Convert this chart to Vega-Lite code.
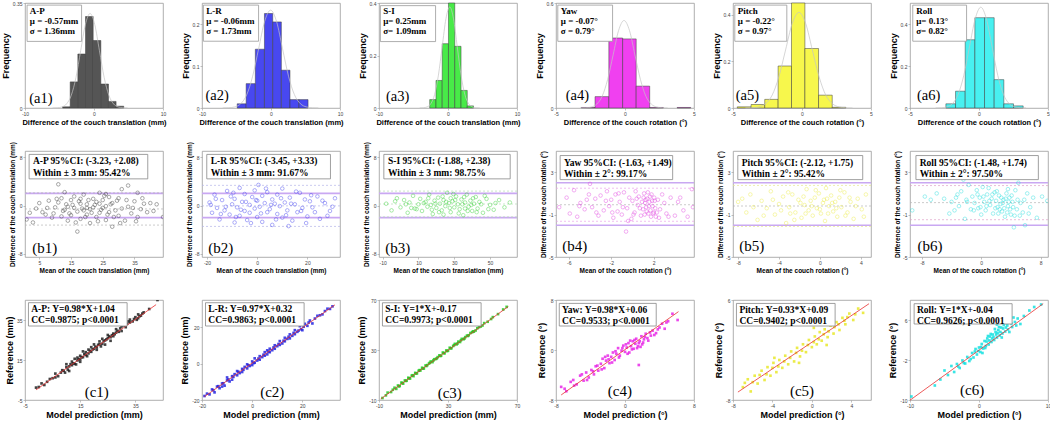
{
"$schema":"https://vega.github.io/schema/vega-lite/v6.json",
"background":"white",
"padding":0,
"bounds":"flush",
"columns":6,
"spacing":{"row":43,"column":39},
"config":{"view":{"stroke":"#9a9a9a","strokeWidth":0.8},
"axis":{"grid":false,"domain":false,"tickSize":2,"tickColor":"#999999","tickWidth":0.6,"labelFontSize":5,"labelFont":"Liberation Sans","labelColor":"#444444","labelPadding":1,"labelFlush":false,"labelOverlap":false,"labelExpr":"'' + datum.value","titleFont":"Liberation Sans","titleFontWeight":"bold","titleColor":"#000000","titlePadding":2}},
"datasets":{
"h1":[{"x":-4.55,"x2":-3.45,"y":0.004},{"x":-3.45,"x2":-2.34,"y":0.087},{"x":-2.34,"x2":-1.23,"y":0.18},{"x":-1.23,"x2":-0.12,"y":0.305},{"x":-0.12,"x2":0.99,"y":0.225},{"x":0.99,"x2":2.1,"y":0.08},{"x":2.1,"x2":3.2,"y":0.022},{"x":3.2,"x2":4.31,"y":0.006}],
"h2":[{"x":-4.9,"x2":-3.6,"y":0.01},{"x":-3.6,"x2":-2.27,"y":0.058},{"x":-2.27,"x2":-0.95,"y":0.14},{"x":-0.95,"x2":0.25,"y":0.225},{"x":0.25,"x2":1.5,"y":0.205},{"x":1.5,"x2":2.75,"y":0.09},{"x":2.75,"x2":4.05,"y":0.02},{"x":4.05,"x2":5.37,"y":0.02}],
"h3":[{"x":-2.65,"x2":-1.74,"y":0.032},{"x":-1.74,"x2":-0.84,"y":0.105},{"x":-0.84,"x2":0.07,"y":0.245},{"x":0.07,"x2":0.98,"y":0.4},{"x":0.98,"x2":1.89,"y":0.235},{"x":1.89,"x2":2.79,"y":0.067},{"x":2.79,"x2":3.7,"y":0.008}],
"h4":[{"x":-3.17,"x2":-2.17,"y":0.003},{"x":-2.17,"x2":-1.17,"y":0.065},{"x":-1.17,"x2":-0.17,"y":0.4},{"x":-0.17,"x2":0.81,"y":0.395},{"x":0.81,"x2":1.79,"y":0.125},{"x":1.79,"x2":2.78,"y":0.003},{"x":3.78,"x2":4.76,"y":0.003}],
"h5":[{"x":-4.69,"x2":-3.69,"y":0.005},{"x":-3.69,"x2":-2.7,"y":0.015},{"x":-2.7,"x2":-1.73,"y":0.037},{"x":-1.73,"x2":-0.76,"y":0.18},{"x":-0.76,"x2":0.21,"y":0.45},{"x":0.21,"x2":1.2,"y":0.255},{"x":1.2,"x2":2.19,"y":0.055},{"x":2.19,"x2":3.18,"y":0.003}],
"h6":[{"x":-2.4,"x2":-1.7,"y":0.02},{"x":-1.7,"x2":-1.0,"y":0.08},{"x":-1.0,"x2":-0.3,"y":0.325},{"x":-0.3,"x2":0.4,"y":0.43},{"x":0.4,"x2":1.1,"y":0.43},{"x":1.1,"x2":1.8,"y":0.135},{"x":1.8,"x2":2.5,"y":0.02},{"x":2.5,"x2":3.2,"y":0.01}],
"g1":[{"x":-6.01,"y":0.0001},{"x":-5.33,"y":0.0007},{"x":-4.65,"y":0.0035},{"x":-3.97,"y":0.0138},{"x":-3.29,"y":0.0426},{"x":-2.61,"y":0.102},{"x":-1.93,"y":0.191},{"x":-1.25,"y":0.278},{"x":-0.57,"y":0.315},{"x":0.11,"y":0.278},{"x":0.79,"y":0.191},{"x":1.47,"y":0.102},{"x":2.15,"y":0.0426},{"x":2.83,"y":0.0138},{"x":3.51,"y":0.0035},{"x":4.19,"y":0.0007},{"x":4.87,"y":0.0001}],
"g2":[{"x":-7.0,"y":0.0001},{"x":-6.12,"y":0.0005},{"x":-5.25,"y":0.0026},{"x":-4.39,"y":0.0102},{"x":-3.52,"y":0.0315},{"x":-2.66,"y":0.0757},{"x":-1.79,"y":0.1413},{"x":-0.93,"y":0.2056},{"x":-0.06,"y":0.233},{"x":0.81,"y":0.2056},{"x":1.67,"y":0.1413},{"x":2.54,"y":0.0757},{"x":3.4,"y":0.0315},{"x":4.27,"y":0.0102},{"x":5.13,"y":0.0026},{"x":6.0,"y":0.0005},{"x":6.86,"y":0.0001}],
"g3":[{"x":-4.11,"y":0.0001},{"x":-3.57,"y":0.0008},{"x":-3.02,"y":0.0043},{"x":-2.48,"y":0.0169},{"x":-1.93,"y":0.0521},{"x":-1.39,"y":0.125},{"x":-0.84,"y":0.2335},{"x":-0.3,"y":0.3398},{"x":0.25,"y":0.385},{"x":0.8,"y":0.3398},{"x":1.34,"y":0.2335},{"x":1.89,"y":0.125},{"x":2.43,"y":0.0521},{"x":2.98,"y":0.0169},{"x":3.52,"y":0.0043},{"x":4.07,"y":0.0008},{"x":4.61,"y":0.0001}],
"g4":[{"x":-3.23,"y":0.0002},{"x":-2.84,"y":0.0011},{"x":-2.44,"y":0.0056},{"x":-2.05,"y":0.022},{"x":-1.65,"y":0.0677},{"x":-1.26,"y":0.1624},{"x":-0.86,"y":0.3033},{"x":-0.47,"y":0.4413},{"x":-0.07,"y":0.5},{"x":0.33,"y":0.4413},{"x":0.72,"y":0.3033},{"x":1.12,"y":0.1624},{"x":1.51,"y":0.0677},{"x":1.91,"y":0.022},{"x":2.3,"y":0.0056},{"x":2.7,"y":0.0011},{"x":3.09,"y":0.0002}],
"g5":[{"x":-4.1,"y":0.0001},{"x":-3.62,"y":0.0009},{"x":-3.13,"y":0.0046},{"x":-2.65,"y":0.018},{"x":-2.16,"y":0.0555},{"x":-1.68,"y":0.1331},{"x":-1.19,"y":0.2487},{"x":-0.71,"y":0.3618},{"x":-0.22,"y":0.41},{"x":0.27,"y":0.3618},{"x":0.75,"y":0.2487},{"x":1.24,"y":0.1331},{"x":1.72,"y":0.0555},{"x":2.21,"y":0.018},{"x":2.69,"y":0.0046},{"x":3.18,"y":0.0009},{"x":3.66,"y":0.0001}],
"g6":[{"x":-3.15,"y":0.0002},{"x":-2.74,"y":0.0011},{"x":-2.33,"y":0.0053},{"x":-1.92,"y":0.0211},{"x":-1.51,"y":0.0649},{"x":-1.1,"y":0.1559},{"x":-0.69,"y":0.2911},{"x":-0.28,"y":0.4236},{"x":0.13,"y":0.48},{"x":0.54,"y":0.4236},{"x":0.95,"y":0.2911},{"x":1.36,"y":0.1559},{"x":1.77,"y":0.0649},{"x":2.18,"y":0.0211},{"x":2.59,"y":0.0053},{"x":3.0,"y":0.0011},{"x":3.41,"y":0.0002}],
"s1":[{"x":1,"y":-2.3},{"x":2,"y":-1.2},{"x":3,"y":-2.8},{"x":4,"y":-0.5},{"x":5,"y":0.4},{"x":6,"y":-1.1},{"x":7,"y":-1.5},{"x":8,"y":0.8},{"x":9,"y":-2},{"x":10,"y":-0.3},{"x":11,"y":3.5},{"x":11,"y":0.5},{"x":12,"y":-1.8},{"x":12,"y":1.2},{"x":13,"y":-0.7},{"x":13,"y":2.2},{"x":14,"y":-2.5},{"x":14,"y":-0.2},{"x":15,"y":0.9},{"x":15,"y":-1.6},{"x":16,"y":-0.4},{"x":16,"y":1.5},{"x":17,"y":-4.3},{"x":17,"y":-1},{"x":18,"y":0.3},{"x":18,"y":-2.2},{"x":19,"y":-0.8},{"x":19,"y":1.8},{"x":20,"y":-1.5},{"x":20,"y":0.2},{"x":21,"y":-0.6},{"x":21,"y":-2.9},{"x":22,"y":1.1},{"x":22,"y":-0.3},{"x":23,"y":-1.9},{"x":23,"y":0.6},{"x":24,"y":2.1},{"x":24,"y":-1.2},{"x":25,"y":-0.4},{"x":25,"y":0.9},{"x":26,"y":-2.4},{"x":26,"y":-0.1},{"x":27,"y":1.4},{"x":27,"y":-1.1},{"x":28,"y":-3.5},{"x":28,"y":0.4},{"x":29,"y":-0.8},{"x":30,"y":1.2},{"x":30,"y":-1.7},{"x":31,"y":2.7},{"x":31,"y":-0.5},{"x":32,"y":-2.5},{"x":33,"y":3.3},{"x":33,"y":-0.2},{"x":34,"y":-1.3},{"x":35,"y":0.7},{"x":36,"y":-1.9},{"x":36,"y":2.1},{"x":37,"y":-0.6},{"x":38,"y":0.3},{"x":39,"y":-1.1},{"x":40,"y":0.4},{"x":41,"y":-0.9},{"x":42,"y":0.2},{"x":44,"y":-1.9},{"x":12.5,"y":-0.9},{"x":13.5,"y":0.2},{"x":14.5,"y":-1.3},{"x":15.5,"y":0.1},{"x":16.5,"y":-2.8},{"x":17.5,"y":0.7},{"x":18.5,"y":-0.5},{"x":19.5,"y":-1.9},{"x":20.5,"y":0.9},{"x":21.5,"y":-1.2},{"x":22.5,"y":0.1},{"x":23.5,"y":-2.6},{"x":24.5,"y":-0.7},{"x":25.5,"y":1.6},{"x":26.5,"y":-1.5},{"x":27.5,"y":0.2},{"x":28.5,"y":-1.9},{"x":29.5,"y":0.8},{"x":30.5,"y":-2.9},{"x":32.5,"y":0.9},{"x":34.5,"y":-0.4},{"x":35.5,"y":-2.6},{"x":37.5,"y":1.2},{"x":9.5,"y":-1.3},{"x":10.5,"y":1.1},{"x":7.5,"y":-0.4},{"x":24,"y":0.3},{"x":20,"y":-0.4},{"x":26,"y":1.9},{"x":18,"y":1.1}],
"s2":[{"x":-19,"y":0.5},{"x":-18,"y":-1.2},{"x":-17,"y":1.8},{"x":-16,"y":-0.4},{"x":-15,"y":-2.3},{"x":-14,"y":0.9},{"x":-13,"y":-0.8},{"x":-12,"y":2.4},{"x":-11,"y":-1.5},{"x":-10,"y":0.2},{"x":-9,"y":-2.8},{"x":-9,"y":1.1},{"x":-8,"y":-0.3},{"x":-7,"y":2.9},{"x":-7,"y":-1.7},{"x":-6,"y":0.6},{"x":-5,"y":-0.9},{"x":-5,"y":1.9},{"x":-4,"y":-2.4},{"x":-3,"y":0.1},{"x":-3,"y":-1.2},{"x":-2,"y":1.4},{"x":-1,"y":-0.5},{"x":-1,"y":2.5},{"x":0,"y":-1.9},{"x":0,"y":0.8},{"x":1,"y":-0.2},{"x":2,"y":1.6},{"x":2,"y":-2.7},{"x":3,"y":0.4},{"x":4,"y":-1.1},{"x":4,"y":2.2},{"x":5,"y":-0.6},{"x":6,"y":1},{"x":6,"y":-3.2},{"x":7,"y":0.3},{"x":8,"y":-1.4},{"x":8,"y":1.8},{"x":9,"y":-0.1},{"x":10,"y":2.8},{"x":10,"y":-2},{"x":11,"y":0.5},{"x":12,"y":-0.8},{"x":13,"y":1.3},{"x":14,"y":-2.5},{"x":15,"y":0.2},{"x":16,"y":-1.1},{"x":17,"y":2.1},{"x":18,"y":-0.4},{"x":19,"y":1},{"x":20,"y":-1.8},{"x":21,"y":0.7},{"x":22,"y":-0.3},{"x":24,"y":1.5},{"x":25,"y":-2.2},{"x":27,"y":0.4},{"x":29,"y":-0.9},{"x":31,"y":1.2},{"x":-18.5,"y":0.1},{"x":-16.5,"y":1.1},{"x":-14.5,"y":-1.4},{"x":-12.5,"y":-0.2},{"x":-10.5,"y":1.5},{"x":-8.5,"y":-1.9},{"x":-6.5,"y":-0.7},{"x":-4.5,"y":0.6},{"x":-2.5,"y":-2.9},{"x":-0.5,"y":0.9},{"x":1.5,"y":-1.3},{"x":3.5,"y":2.8},{"x":5.5,"y":0.1},{"x":7.5,"y":-2.3},{"x":9.5,"y":1.2},{"x":11.5,"y":-1.6},{"x":13.5,"y":0.3},{"x":15.5,"y":2.3},{"x":17.5,"y":-0.9},{"x":19.5,"y":-2.9},{"x":21.5,"y":1.7},{"x":23,"y":-1.1},{"x":26,"y":0.8},{"x":28,"y":-1.7},{"x":30,"y":-0.2},{"x":0.5,"y":3.4},{"x":-9.5,"y":2.1},{"x":12.5,"y":-3.4}],
"s3":[{"x":-8,"y":0.3},{"x":-5,"y":-0.8},{"x":-2,"y":1.2},{"x":0,"y":-0.3},{"x":2,"y":0.9},{"x":4,"y":-1.2},{"x":5,"y":0.5},{"x":7,"y":1.6},{"x":8,"y":-0.5},{"x":10,"y":0.2},{"x":11,"y":1.1},{"x":12,"y":-0.9},{"x":14,"y":0.6},{"x":15,"y":-0.2},{"x":16,"y":1.8},{"x":17,"y":0.1},{"x":18,"y":-1.4},{"x":19,"y":0.8},{"x":20,"y":-0.4},{"x":21,"y":1.3},{"x":22,"y":0.3},{"x":23,"y":-0.8},{"x":24,"y":0.9},{"x":25,"y":-0.1},{"x":26,"y":2.1},{"x":27,"y":0.4},{"x":28,"y":-1.1},{"x":29,"y":0.7},{"x":30,"y":-0.3},{"x":31,"y":1.5},{"x":32,"y":0.2},{"x":33,"y":-0.6},{"x":34,"y":1},{"x":35,"y":-1.6},{"x":36,"y":0.5},{"x":37,"y":1.8},{"x":38,"y":-0.2},{"x":39,"y":0.8},{"x":40,"y":-0.9},{"x":41,"y":0.3},{"x":42,"y":1.4},{"x":43,"y":-0.5},{"x":44,"y":0.6},{"x":46,"y":-1.2},{"x":48,"y":1.1},{"x":50,"y":0.1},{"x":52,"y":-0.7},{"x":55,"y":0.9},{"x":58,"y":-0.3},{"x":61,"y":0.5},{"x":9,"y":-0.6},{"x":13,"y":0.4},{"x":15.5,"y":1.2},{"x":17.5,"y":-0.7},{"x":19.5,"y":0.3},{"x":21.5,"y":-1.1},{"x":23.5,"y":1.5},{"x":25.5,"y":0.6},{"x":27.5,"y":-0.4},{"x":29.5,"y":1.9},{"x":30.5,"y":0.9},{"x":32.5,"y":-1.3},{"x":34.5,"y":0.2},{"x":35.5,"y":1.4},{"x":37.5,"y":-0.9},{"x":39.5,"y":0.1},{"x":40.5,"y":1.2},{"x":42.5,"y":-1.1},{"x":45,"y":0.2},{"x":47,"y":1.6},{"x":49,"y":-0.6},{"x":53,"y":0.4},{"x":3,"y":0.2},{"x":6,"y":-0.4},{"x":-3,"y":0.7},{"x":24,"y":-1.5},{"x":36,"y":-0.5},{"x":28,"y":1.2}],
"s4":[{"x":-6.9,"y":-0.3},{"x":-6.2,"y":0.6},{"x":-5.9,"y":-0.9},{"x":-5.5,"y":1.3},{"x":-5.2,"y":-1.2},{"x":-4.9,"y":0.1},{"x":-4.5,"y":-0.5},{"x":-4.1,"y":0.9},{"x":-4.0,"y":1.9},{"x":-3.8,"y":-0.3},{"x":-3.5,"y":0.5},{"x":-3.2,"y":-1.1},{"x":-3,"y":0.8},{"x":-2.7,"y":-0.6},{"x":-2.4,"y":1.2},{"x":-2.2,"y":-0.2},{"x":-2,"y":0.4},{"x":-1.8,"y":-1.3},{"x":-1.6,"y":0.9},{"x":-1.4,"y":-0.7},{"x":-1.2,"y":0.2},{"x":-1,"y":-1.0},{"x":-0.8,"y":1.1},{"x":-0.6,"y":-2.6},{"x":-0.5,"y":-0.4},{"x":-0.3,"y":0.6},{"x":-0.1,"y":-1.4},{"x":0,"y":0.3},{"x":0.2,"y":-0.8},{"x":0.3,"y":1.2},{"x":0.5,"y":-0.1},{"x":0.6,"y":0.7},{"x":0.8,"y":-1.1},{"x":0.9,"y":0.2},{"x":1,"y":-0.5},{"x":1.1,"y":1.0},{"x":1.2,"y":0.1},{"x":1.3,"y":-0.3},{"x":1.4,"y":0.5},{"x":1.5,"y":-0.9},{"x":1.6,"y":0.2},{"x":1.7,"y":-0.6},{"x":1.8,"y":0.9},{"x":1.9,"y":-0.2},{"x":2,"y":-0.8},{"x":2.1,"y":0.3},{"x":2.2,"y":-1.2},{"x":2.4,"y":0.4},{"x":2.6,"y":-0.5},{"x":3,"y":0.1},{"x":3.2,"y":-0.9},{"x":3.6,"y":0.6},{"x":4,"y":-1.1},{"x":4.3,"y":0.2},{"x":4.8,"y":-0.6},{"x":5.2,"y":-1.2},{"x":5.6,"y":1.4},{"x":5.7,"y":-0.3},{"x":0.4,"y":0.5},{"x":0.7,"y":-0.4},{"x":1.05,"y":0.6},{"x":1.15,"y":-1.0},{"x":1.25,"y":0.4},{"x":1.35,"y":-0.7},{"x":1.45,"y":1.1},{"x":1.55,"y":-0.2},{"x":1.65,"y":0.7},{"x":1.75,"y":-1.2},{"x":1.85,"y":0.3},{"x":1.95,"y":-0.9},{"x":2.05,"y":0.6},{"x":2.15,"y":-0.4},{"x":2.3,"y":-0.8},{"x":2.5,"y":-1.3},{"x":2.8,"y":0.9},{"x":-0.9,"y":-0.3},{"x":-1.3,"y":1.0},{"x":-1.9,"y":-0.8},{"x":-2.5,"y":0.3},{"x":-3.4,"y":-0.8},{"x":-4.3,"y":0.4},{"x":-5,"y":-0.2},{"x":0.1,"y":-1.0},{"x":-0.4,"y":-1.6},{"x":3.4,"y":-1.2},{"x":4.5,"y":0.6}],
"s5":[{"x":-8,"y":0.2},{"x":-7.2,"y":-0.8},{"x":-6.8,"y":0.9},{"x":-6.1,"y":-1.5},{"x":-5.7,"y":0.3},{"x":-5.2,"y":-0.4},{"x":-4.8,"y":1.2},{"x":-4.4,"y":-1},{"x":-4,"y":0},{"x":-3.6,"y":0.7},{"x":-3.3,"y":-1.8},{"x":-3,"y":-0.3},{"x":-2.7,"y":0.9},{"x":-2.4,"y":-0.8},{"x":-2.1,"y":0.4},{"x":-1.8,"y":-1.3},{"x":-1.5,"y":-0.1},{"x":-1.3,"y":1.4},{"x":-1.1,"y":-0.6},{"x":-0.9,"y":0.3},{"x":-0.7,"y":-1.1},{"x":-0.5,"y":0.6},{"x":-0.3,"y":-0.4},{"x":-0.1,"y":1},{"x":0.1,"y":-0.9},{"x":0.3,"y":0.1},{"x":0.5,"y":-1.6},{"x":0.7,"y":0.5},{"x":0.9,"y":-0.2},{"x":1.1,"y":0.8},{"x":1.3,"y":-0.7},{"x":1.5,"y":0.2},{"x":1.7,"y":-1.2},{"x":1.9,"y":0.6},{"x":2.1,"y":-0.3},{"x":2.4,"y":1.1},{"x":2.7,"y":-0.8},{"x":3,"y":0.2},{"x":3.3,"y":-1.4},{"x":3.7,"y":0.5},{"x":4.1,"y":-0.5},{"x":4.5,"y":0.9},{"x":-7.6,"y":0.5},{"x":-6.5,"y":-0.3},{"x":-5.5,"y":-1.1},{"x":-4.6,"y":0.4},{"x":-3.8,"y":-0.6},{"x":-3.1,"y":1.1},{"x":-2.5,"y":-1.5},{"x":-1.9,"y":0.1},{"x":-1.4,"y":-0.9},{"x":-0.8,"y":-0.2},{"x":-0.4,"y":1.3},{"x":0,"y":-0.5},{"x":0.4,"y":0.4},{"x":0.8,"y":-0.9},{"x":1.2,"y":0.1},{"x":1.6,"y":-0.4},{"x":2,"y":1.3},{"x":2.5,"y":-1.1},{"x":2.9,"y":0.6},{"x":3.5,"y":-0.2},{"x":4.3,"y":-1.2},{"x":-1.6,"y":0.7},{"x":-2.9,"y":-0.9},{"x":0.6,"y":1.5}],
"s6":[{"x":-9.3,"y":-0.6},{"x":-7.6,"y":0.7},{"x":-6.8,"y":0.4},{"x":-6,"y":1},{"x":-5,"y":0.5},{"x":-4.3,"y":-0.9},{"x":-4,"y":0.2},{"x":-3.6,"y":-0.6},{"x":-3.2,"y":0.9},{"x":-3,"y":-0.2},{"x":-2.7,"y":1.2},{"x":-2.4,"y":2.3},{"x":-2.2,"y":-1.4},{"x":-2,"y":0.4},{"x":-1.7,"y":1.8},{"x":-1.4,"y":-0.5},{"x":-1.2,"y":0.7},{"x":-0.9,"y":0.1},{"x":-0.6,"y":1.3},{"x":-0.4,"y":-0.4},{"x":-0.2,"y":0.6},{"x":0,"y":-1},{"x":0.2,"y":1.6},{"x":0.4,"y":0.2},{"x":0.6,"y":-0.6},{"x":0.8,"y":0.9},{"x":1,"y":1.5},{"x":1.2,"y":-0.1},{"x":1.4,"y":0.5},{"x":1.6,"y":-0.9},{"x":1.8,"y":1.1},{"x":2,"y":0.3},{"x":2.2,"y":-0.3},{"x":2.4,"y":0.8},{"x":2.6,"y":0},{"x":2.8,"y":-0.7},{"x":3,"y":0.4},{"x":3.2,"y":-1.2},{"x":3.4,"y":1},{"x":3.6,"y":-0.2},{"x":3.8,"y":0.6},{"x":4,"y":-1},{"x":4.2,"y":0.2},{"x":4.4,"y":-2.2},{"x":4.6,"y":1.3},{"x":4.8,"y":-0.5},{"x":5,"y":2},{"x":5.3,"y":0.1},{"x":5.6,"y":-0.8},{"x":5.9,"y":-2},{"x":6.2,"y":1},{"x":6.6,"y":-0.3},{"x":7,"y":0.6},{"x":7.5,"y":-1.3},{"x":8.2,"y":0.7},{"x":8.9,"y":0.3},{"x":2.9,"y":0.1},{"x":3.1,"y":-0.4},{"x":3.3,"y":0.5},{"x":3.5,"y":-0.8},{"x":3.7,"y":0.2},{"x":3.9,"y":-0.5},{"x":4.1,"y":0.8},{"x":4.3,"y":-0.3},{"x":4.5,"y":-1.1},{"x":2.5,"y":-0.5},{"x":2.7,"y":0.6},{"x":2.3,"y":-0.9},{"x":2.1,"y":1.2},{"x":1.9,"y":-0.4},{"x":1.5,"y":0.9},{"x":1.1,"y":0.3},{"x":0.7,"y":-0.2},{"x":0.3,"y":0.7},{"x":-0.1,"y":-0.3},{"x":-0.5,"y":0.9},{"x":-1,"y":-0.6},{"x":-1.9,"y":0.2},{"x":-3.4,"y":0.6},{"x":5.2,"y":-1.1},{"x":5.8,"y":0.4},{"x":6.4,"y":-0.9},{"x":4.9,"y":0.4},{"x":3.6,"y":1.4}],
"r1":[{"x":-1,"y":1.2},{"x":0,"y":1.5},{"x":1,"y":3.3},{"x":2,"y":2.5},{"x":3,"y":4.1},{"x":4,"y":5.5},{"x":5,"y":5.9},{"x":6,"y":6.3},{"x":6,"y":8.2},{"x":8,"y":8.7},{"x":9,"y":9.6},{"x":10,"y":11.4},{"x":10,"y":12.9},{"x":11,"y":11.8},{"x":11,"y":9.5},{"x":12,"y":12.4},{"x":12,"y":14.2},{"x":13,"y":13.1},{"x":13,"y":15.6},{"x":14,"y":14.8},{"x":14,"y":16.2},{"x":15,"y":15.3},{"x":15,"y":17.1},{"x":16,"y":16.4},{"x":16,"y":19.3},{"x":17,"y":17.5},{"x":17,"y":18.9},{"x":18,"y":18.3},{"x":18,"y":20.2},{"x":19,"y":19.1},{"x":19,"y":21.4},{"x":20,"y":20.6},{"x":20,"y":22.8},{"x":21,"y":21.3},{"x":21,"y":20.1},{"x":22,"y":22.9},{"x":22,"y":24.3},{"x":23,"y":23.1},{"x":23,"y":25.6},{"x":24,"y":24.8},{"x":24,"y":22.7},{"x":25,"y":25.9},{"x":25,"y":27.5},{"x":26,"y":26.4},{"x":26,"y":24.6},{"x":27,"y":28.2},{"x":27,"y":26.9},{"x":28,"y":28.7},{"x":28,"y":30.4},{"x":29,"y":29.1},{"x":30,"y":31.8},{"x":30,"y":29.5},{"x":31,"y":32.3},{"x":32,"y":33.1},{"x":33,"y":33.8},{"x":33,"y":35.2},{"x":34,"y":34.3},{"x":35,"y":36.4},{"x":36,"y":35.9},{"x":36,"y":37.8},{"x":37,"y":37.2},{"x":38,"y":38.8},{"x":40,"y":40.5},{"x":43,"y":45},{"x":7,"y":6.9},{"x":8.5,"y":9.9},{"x":9.5,"y":8.7},{"x":10.5,"y":10.2},{"x":11.5,"y":12.9},{"x":12.5,"y":13.3},{"x":13.5,"y":12.8},{"x":14.5,"y":15.5},{"x":15.5,"y":16.4},{"x":16.5,"y":17.9},{"x":17.5,"y":16.9},{"x":18.5,"y":19.6},{"x":19.5,"y":20.3},{"x":20.5,"y":21.7},{"x":21.5,"y":22.6},{"x":22.5,"y":21.8},{"x":23.5,"y":24.4},{"x":24.5,"y":25.3},{"x":25.5,"y":26.8},{"x":26.5,"y":27.4},{"x":27.5,"y":27.9},{"x":28.5,"y":29.6},{"x":29.5,"y":30.8},{"x":31.5,"y":31.4},{"x":32.5,"y":34.3},{"x":34.5,"y":35.5},{"x":35.5,"y":35.1},{"x":36.5,"y":36.9},{"x":37.5,"y":38.2},{"x":15,"y":14.1}],
"r2":[{"x":-19,"y":-17.8},{"x":-17,"y":-16.9},{"x":-16,"y":-14.2},{"x":-15,"y":-15.8},{"x":-14,"y":-12.6},{"x":-13,"y":-13.5},{"x":-12,"y":-10.9},{"x":-11,"y":-12.1},{"x":-10,"y":-9.2},{"x":-10,"y":-7.6},{"x":-9,"y":-9.8},{"x":-8,"y":-6.9},{"x":-8,"y":-8.8},{"x":-7,"y":-5.8},{"x":-6,"y":-6.4},{"x":-6,"y":-4.1},{"x":-5,"y":-5.2},{"x":-4,"y":-2.9},{"x":-4,"y":-4.6},{"x":-3,"y":-1.8},{"x":-2,"y":-2.6},{"x":-2,"y":-0.4},{"x":-1,"y":-1.3},{"x":0,"y":1.2},{"x":0,"y":-0.8},{"x":1,"y":0.5},{"x":1,"y":2.9},{"x":2,"y":1.7},{"x":3,"y":4.1},{"x":3,"y":2.2},{"x":4,"y":3.6},{"x":5,"y":6.3},{"x":5,"y":4.4},{"x":6,"y":5.1},{"x":7,"y":8.2},{"x":7,"y":6.3},{"x":8,"y":7.4},{"x":9,"y":10.1},{"x":9,"y":8.2},{"x":10,"y":9.6},{"x":11,"y":12.4},{"x":11,"y":10.3},{"x":12,"y":11.1},{"x":13,"y":14.2},{"x":13,"y":12.3},{"x":14,"y":13.6},{"x":15,"y":16.1},{"x":15,"y":13.9},{"x":16,"y":15.3},{"x":17,"y":18.4},{"x":17,"y":16.2},{"x":18,"y":17.5},{"x":19,"y":20.6},{"x":20,"y":18.4},{"x":21,"y":21.9},{"x":22,"y":20.8},{"x":23,"y":23.7},{"x":24,"y":22.1},{"x":26,"y":26.3},{"x":28,"y":27.1},{"x":30,"y":30.2},{"x":32,"y":31.5},{"x":-18,"y":-16.5},{"x":-15.5,"y":-14.6},{"x":-13.5,"y":-12.4},{"x":-11.5,"y":-10.8},{"x":-9.5,"y":-8.7},{"x":-7.5,"y":-7.3},{"x":-5.5,"y":-4.5},{"x":-3.5,"y":-3.4},{"x":-1.5,"y":-0.9},{"x":0.5,"y":0.3},{"x":2.5,"y":2.8},{"x":4.5,"y":4.9},{"x":6.5,"y":6.6},{"x":8.5,"y":8.9},{"x":10.5,"y":10.8},{"x":12.5,"y":12.6},{"x":14.5,"y":14.8},{"x":16.5,"y":16.9},{"x":18.5,"y":18.2},{"x":19.5,"y":18.9},{"x":20.5,"y":20.3},{"x":22.5,"y":22.6},{"x":25,"y":24.8},{"x":27,"y":26.6},{"x":29,"y":28.9},{"x":31,"y":30.1},{"x":-12,"y":-12.6},{"x":6,"y":7.3}],
"r3":[{"x":-8,"y":-8.4},{"x":-5,"y":-4.1},{"x":-3,"y":-3.6},{"x":-1,"y":-0.2},{"x":0,"y":-1.1},{"x":1,"y":1.6},{"x":2,"y":1.2},{"x":3,"y":3.9},{"x":4,"y":3.1},{"x":5,"y":5.6},{"x":6,"y":5.4},{"x":7,"y":7.8},{"x":8,"y":7.2},{"x":9,"y":9.5},{"x":10,"y":9.1},{"x":11,"y":11.7},{"x":12,"y":11.3},{"x":13,"y":13.4},{"x":14,"y":13.6},{"x":15,"y":15.8},{"x":16,"y":15.2},{"x":17,"y":17.6},{"x":18,"y":17.9},{"x":19,"y":19.2},{"x":20,"y":20.8},{"x":21,"y":20.3},{"x":22,"y":22.6},{"x":23,"y":22.8},{"x":24,"y":24.3},{"x":25,"y":25.7},{"x":26,"y":25.4},{"x":27,"y":27.9},{"x":28,"y":27.3},{"x":29,"y":29.6},{"x":30,"y":29.5},{"x":31,"y":31.8},{"x":32,"y":31.4},{"x":33,"y":33.2},{"x":34,"y":34.9},{"x":35,"y":34.5},{"x":36,"y":36.7},{"x":37,"y":36.4},{"x":38,"y":38.9},{"x":39,"y":38.6},{"x":40,"y":40.3},{"x":41,"y":41.5},{"x":42,"y":41.8},{"x":43,"y":43.6},{"x":44,"y":44.2},{"x":45,"y":44.7},{"x":47,"y":47.4},{"x":49,"y":48.8},{"x":51,"y":51.5},{"x":53,"y":52.6},{"x":56,"y":56.3},{"x":59,"y":58.7},{"x":62,"y":62.4},{"x":64,"y":64.5},{"x":-6,"y":-6.3},{"x":-2,"y":-1.8},{"x":1.5,"y":0.9},{"x":3.5,"y":3.6},{"x":5.5,"y":5.3},{"x":7.5,"y":7.3},{"x":9.5,"y":9.8},{"x":11.5,"y":11.2},{"x":13.5,"y":13.9},{"x":15.5,"y":15.1},{"x":17.5,"y":17.2},{"x":19.5,"y":19.8},{"x":21.5,"y":21.6},{"x":23.5,"y":23.3},{"x":25.5,"y":25.2},{"x":27.5,"y":27.6},{"x":29.5,"y":29.1},{"x":31.5,"y":31.3},{"x":33.5,"y":33.9},{"x":35.5,"y":35.2},{"x":37.5,"y":37.8},{"x":39.5,"y":39.1},{"x":41.5,"y":41.2},{"x":44.5,"y":44.9},{"x":46,"y":45.6},{"x":48,"y":48.3},{"x":50,"y":49.6},{"x":55,"y":54.8}],
"r4":[{"x":-7.4,"y":-5.9},{"x":-6.8,"y":-6.6},{"x":-6.3,"y":-5.1},{"x":-6,"y":-4.8},{"x":-5.6,"y":-5.5},{"x":-5.2,"y":-4.1},{"x":-4.8,"y":-4.9},{"x":-4.5,"y":-3.6},{"x":-4.2,"y":-4.4},{"x":-3.9,"y":-3.2},{"x":-3.6,"y":-3.9},{"x":-3.4,"y":-2.6},{"x":-3.1,"y":-3.3},{"x":-2.8,"y":-2.2},{"x":-2.6,"y":-1.4},{"x":-2.4,"y":-2.9},{"x":-2.2,"y":-1.7},{"x":-2,"y":-0.9},{"x":-1.8,"y":-2.1},{"x":-1.6,"y":-1.1},{"x":-1.4,"y":-0.4},{"x":-1.2,"y":-1.6},{"x":-1,"y":-0.6},{"x":-0.8,"y":0.3},{"x":-0.6,"y":-0.9},{"x":-0.4,"y":-0.1},{"x":-0.2,"y":0.7},{"x":0,"y":-0.3},{"x":0.2,"y":0.4},{"x":0.4,"y":1.1},{"x":0.5,"y":-0.4},{"x":0.7,"y":0.6},{"x":0.9,"y":1.4},{"x":1,"y":0.2},{"x":1.2,"y":1},{"x":1.3,"y":1.8},{"x":1.5,"y":0.6},{"x":1.6,"y":-2.4},{"x":1.7,"y":1.4},{"x":1.9,"y":2.2},{"x":2,"y":0.9},{"x":2.2,"y":1.7},{"x":2.4,"y":2.6},{"x":2.7,"y":1.5},{"x":3,"y":2.3},{"x":3.2,"y":3.1},{"x":3.6,"y":2.7},{"x":4,"y":3.6},{"x":4.3,"y":4.2},{"x":4.6,"y":3.4},{"x":5,"y":4.6},{"x":5.5,"y":5.8},{"x":6.1,"y":4.8},{"x":-7,"y":-6.2},{"x":-5.9,"y":-5.7},{"x":-5,"y":-3.9},{"x":-4.4,"y":-4.8},{"x":-3.7,"y":-3.4},{"x":-3.2,"y":-2.5},{"x":-2.7,"y":-3.1},{"x":-2.3,"y":-1.1},{"x":-1.9,"y":-1.5},{"x":-1.5,"y":-2.0},{"x":-1.1,"y":-0.2},{"x":-0.7,"y":-1.2},{"x":-0.3,"y":0.3},{"x":0.1,"y":0.9},{"x":0.3,"y":-0.6},{"x":0.6,"y":1.5},{"x":0.8,"y":0.1},{"x":1.1,"y":1.6},{"x":1.4,"y":0.3},{"x":1.6,"y":1.1},{"x":1.8,"y":0.5},{"x":2.1,"y":1.2},{"x":2.3,"y":2.1},{"x":2.6,"y":1.9},{"x":2.9,"y":2.8},{"x":3.4,"y":2.4},{"x":3.8,"y":3.3},{"x":4.8,"y":4.4}],
"r5":[{"x":-7,"y":-6.2},{"x":-6.5,"y":-5.1},{"x":-6.2,"y":-6.8},{"x":-5.8,"y":-4.6},{"x":-5.5,"y":-5.7},{"x":-5.1,"y":-3.9},{"x":-4.8,"y":-5.2},{"x":-4.5,"y":-3.4},{"x":-4.2,"y":-4.6},{"x":-3.9,"y":-2.8},{"x":-3.6,"y":-4.1},{"x":-3.3,"y":-2.4},{"x":-3,"y":-3.5},{"x":-2.7,"y":-1.8},{"x":-2.4,"y":-3},{"x":-2.1,"y":-1.2},{"x":-1.8,"y":-2.6},{"x":-1.5,"y":-0.7},{"x":-1.2,"y":-1.9},{"x":-0.9,"y":-0.2},{"x":-0.6,"y":-1.3},{"x":-0.3,"y":0.4},{"x":0,"y":-0.6},{"x":0.3,"y":0.9},{"x":0.5,"y":-0.2},{"x":0.8,"y":1.5},{"x":1,"y":0.3},{"x":1.3,"y":1.9},{"x":1.6,"y":0.8},{"x":1.9,"y":2.4},{"x":2.2,"y":1.3},{"x":2.5,"y":2.9},{"x":2.8,"y":1.8},{"x":3.1,"y":3.5},{"x":3.4,"y":2.6},{"x":3.8,"y":4.1},{"x":4.2,"y":3.2},{"x":4.7,"y":4.8},{"x":5.2,"y":4.2},{"x":-6.8,"y":-5.6},{"x":-6,"y":-5.5},{"x":-5.3,"y":-4.5},{"x":-4.6,"y":-4.4},{"x":-4,"y":-3.5},{"x":-3.4,"y":-3.3},{"x":-2.8,"y":-2.6},{"x":-2.2,"y":-2.1},{"x":-1.6,"y":-1.4},{"x":-1,"y":-1.1},{"x":-0.4,"y":-0.3},{"x":0.2,"y":0.1},{"x":0.7,"y":0.5},{"x":1.2,"y":1.2},{"x":1.7,"y":1.6},{"x":2.3,"y":2.2},{"x":2.7,"y":2.6},{"x":3.3,"y":3.1},{"x":3.6,"y":3.6},{"x":4.4,"y":4},{"x":-3.8,"y":-2.1},{"x":-1.3,"y":-2.8},{"x":1.5,"y":-0.3},{"x":0.2,"y":2.1}],
"r6":[{"x":-9.8,"y":-9.3},{"x":-6.4,"y":-7.1},{"x":-5.6,"y":-5.9},{"x":-5,"y":-4.1},{"x":-4.5,"y":-5},{"x":-4,"y":-3.2},{"x":-3.6,"y":-4.4},{"x":-3.2,"y":-2.8},{"x":-2.8,"y":-3.6},{"x":-2.4,"y":-2.1},{"x":-2,"y":-2.7},{"x":-1.7,"y":-1.4},{"x":-1.4,"y":-2.2},{"x":-1,"y":-0.6},{"x":-0.8,"y":-1.5},{"x":-0.5,"y":0.2},{"x":-0.3,"y":-0.9},{"x":0,"y":0.5},{"x":0.2,"y":-0.4},{"x":0.4,"y":1.2},{"x":0.6,"y":0.3},{"x":0.8,"y":1.8},{"x":1,"y":0.8},{"x":1.2,"y":2.3},{"x":1.4,"y":1.1},{"x":1.6,"y":2.7},{"x":1.8,"y":1.6},{"x":2,"y":3.1},{"x":2.2,"y":2},{"x":2.4,"y":3.6},{"x":2.6,"y":2.5},{"x":2.8,"y":4},{"x":3,"y":2.9},{"x":3.2,"y":4.5},{"x":3.4,"y":3.3},{"x":3.6,"y":5},{"x":3.8,"y":3.7},{"x":4,"y":5.4},{"x":4.2,"y":4.1},{"x":4.5,"y":5.9},{"x":4.8,"y":4.6},{"x":5.2,"y":5.6},{"x":5.6,"y":6.3},{"x":6,"y":5.2},{"x":6.5,"y":6.8},{"x":7.3,"y":7.9},{"x":8,"y":8.6},{"x":9,"y":9.1},{"x":-3,"y":-3.3},{"x":-2.2,"y":-2.6},{"x":-1.2,"y":-1.8},{"x":-0.6,"y":-0.3},{"x":-0.1,"y":-0.2},{"x":0.3,"y":0.6},{"x":0.5,"y":-0.6},{"x":0.9,"y":0.4},{"x":1.1,"y":1.7},{"x":1.3,"y":2.8},{"x":1.5,"y":1.9},{"x":1.7,"y":3.2},{"x":1.9,"y":2.3},{"x":2.1,"y":2.6},{"x":2.3,"y":4.2},{"x":2.5,"y":3.1},{"x":2.7,"y":3.4},{"x":2.9,"y":4.6},{"x":3.1,"y":3.6},{"x":3.3,"y":2.5},{"x":3.5,"y":4.3},{"x":3.7,"y":5.8},{"x":3.9,"y":4.5},{"x":4.1,"y":4.9},{"x":4.4,"y":3.6},{"x":4.7,"y":5.3},{"x":5,"y":6.5},{"x":5.4,"y":4.9},{"x":4.3,"y":6.4},{"x":2.6,"y":5.1}]
},
"concat":[
{"width":138,"height":105,"layer":[
{"data":{"name":"h1"},"mark":{"type":"rect","fill":"#555555","stroke":"#3a3a3a","strokeWidth":0.5},"encoding":{"x":{"field":"x","type":"quantitative","scale":{"domain":[-10,10],"nice":false,"zero":false},"axis":{"values":[-10,-5,0,5,10],"title":"Difference of the couch translation (mm)","titleFontSize":7.5}},"x2":{"field":"x2"},"y":{"field":"y","type":"quantitative","scale":{"domain":[0,0.35],"nice":false},"axis":{"values":[0,0.05,0.1,0.15,0.2,0.25,0.3,0.35],"title":"Frequency","titleFontSize":9}},"y2":{"datum":0}}},
{"data":{"name":"g1"},"mark":{"type":"line","color":"#c4c4c4","strokeWidth":0.7,"interpolate":"monotone"},"encoding":{"x":{"field":"x","type":"quantitative"},"y":{"field":"y","type":"quantitative"}}},
{"data":{"values":[{}]},"mark":{"type":"rect","fill":"white","stroke":"#999999","strokeWidth":0.8},"encoding":{"x":{"datum":-9.7},"x2":{"datum":-1.8},"y":{"datum":0.343},"y2":{"datum":0.222}}},
{"data":{"values":[{}]},"mark":{"type":"text","text":["A-P","μ = -0.57mm","σ = 1.36mm"],"font":"Liberation Serif","fontWeight":"bold","fontSize":9,"lineHeight":10,"align":"left","baseline":"top"},"encoding":{"x":{"datum":-9.3},"y":{"datum":0.337}}},
{"data":{"values":[{}]},"mark":{"type":"text","text":"(a1)","font":"Liberation Serif","fontSize":14.5,"align":"left","baseline":"bottom"},"encoding":{"x":{"datum":-9.4},"y":{"datum":0.006}}}
]},
{"width":138,"height":105,"layer":[
{"data":{"name":"h2"},"mark":{"type":"rect","fill":"#4848f0","stroke":"#3a3a3a","strokeWidth":0.5},"encoding":{"x":{"field":"x","type":"quantitative","scale":{"domain":[-10,10],"nice":false,"zero":false},"axis":{"values":[-10,-5,0,5,10],"title":"Difference of the couch translation (mm)","titleFontSize":7.5}},"x2":{"field":"x2"},"y":{"field":"y","type":"quantitative","scale":{"domain":[0,0.25],"nice":false},"axis":{"values":[0,0.05,0.1,0.15,0.2,0.25],"title":"Frequency","titleFontSize":9}},"y2":{"datum":0}}},
{"data":{"name":"g2"},"mark":{"type":"line","color":"#c4c4c4","strokeWidth":0.7,"interpolate":"monotone"},"encoding":{"x":{"field":"x","type":"quantitative"},"y":{"field":"y","type":"quantitative"}}},
{"data":{"values":[{}]},"mark":{"type":"rect","fill":"white","stroke":"#999999","strokeWidth":0.8},"encoding":{"x":{"datum":-9.8},"x2":{"datum":-1.8},"y":{"datum":0.245},"y2":{"datum":0.159}}},
{"data":{"values":[{}]},"mark":{"type":"text","text":["L-R","μ = -0.06mm","σ = 1.73mm"],"font":"Liberation Serif","fontWeight":"bold","fontSize":9,"lineHeight":10,"align":"left","baseline":"top"},"encoding":{"x":{"datum":-9.4},"y":{"datum":0.241}}},
{"data":{"values":[{}]},"mark":{"type":"text","text":"(a2)","font":"Liberation Serif","fontSize":14.5,"align":"left","baseline":"bottom"},"encoding":{"x":{"datum":-9.5},"y":{"datum":0.012}}}
]},
{"width":138,"height":105,"layer":[
{"data":{"name":"h3"},"mark":{"type":"rect","fill":"#48ea48","stroke":"#3a3a3a","strokeWidth":0.5},"encoding":{"x":{"field":"x","type":"quantitative","scale":{"domain":[-10,10],"nice":false,"zero":false},"axis":{"values":[-10,-5,0,5,10],"title":"Difference of the couch translation (mm)","titleFontSize":7.5}},"x2":{"field":"x2"},"y":{"field":"y","type":"quantitative","scale":{"domain":[0,0.4],"nice":false},"axis":{"values":[0,0.05,0.1,0.15,0.2,0.25,0.3,0.35,0.4],"title":"Frequency","titleFontSize":9}},"y2":{"datum":0}}},
{"data":{"name":"g3"},"mark":{"type":"line","color":"#c4c4c4","strokeWidth":0.7,"interpolate":"monotone"},"encoding":{"x":{"field":"x","type":"quantitative"},"y":{"field":"y","type":"quantitative"}}},
{"data":{"values":[{}]},"mark":{"type":"rect","fill":"white","stroke":"#999999","strokeWidth":0.8},"encoding":{"x":{"datum":-9.8},"x2":{"datum":-1.8},"y":{"datum":0.39},"y2":{"datum":0.253}}},
{"data":{"values":[{}]},"mark":{"type":"text","text":["S-I","μ= 0.25mm","σ= 1.09mm"],"font":"Liberation Serif","fontWeight":"bold","fontSize":9,"lineHeight":10,"align":"left","baseline":"top"},"encoding":{"x":{"datum":-9.4},"y":{"datum":0.384}}},
{"data":{"values":[{}]},"mark":{"type":"text","text":"(a3)","font":"Liberation Serif","fontSize":14.5,"align":"left","baseline":"bottom"},"encoding":{"x":{"datum":-9.0},"y":{"datum":0.014}}}
]},
{"width":138,"height":105,"layer":[
{"data":{"name":"h4"},"mark":{"type":"rect","fill":"#f040f0","stroke":"#3a3a3a","strokeWidth":0.5},"encoding":{"x":{"field":"x","type":"quantitative","scale":{"domain":[-5,5],"nice":false,"zero":false},"axis":{"values":[-5,0,5],"title":"Difference of the couch rotation (°)","titleFontSize":7.5}},"x2":{"field":"x2"},"y":{"field":"y","type":"quantitative","scale":{"domain":[0,0.6],"nice":false},"axis":{"values":[0,0.1,0.2,0.3,0.4,0.5,0.6],"title":"Frequency","titleFontSize":9}},"y2":{"datum":0}}},
{"data":{"name":"g4"},"mark":{"type":"line","color":"#c4c4c4","strokeWidth":0.7,"interpolate":"monotone"},"encoding":{"x":{"field":"x","type":"quantitative"},"y":{"field":"y","type":"quantitative"}}},
{"data":{"values":[{}]},"mark":{"type":"rect","fill":"white","stroke":"#999999","strokeWidth":0.8},"encoding":{"x":{"datum":-4.87},"x2":{"datum":-0.9},"y":{"datum":0.588},"y2":{"datum":0.381}}},
{"data":{"values":[{}]},"mark":{"type":"text","text":["Yaw","μ = -0.07°","σ = 0.79°"],"font":"Liberation Serif","fontWeight":"bold","fontSize":9,"lineHeight":10,"align":"left","baseline":"top"},"encoding":{"x":{"datum":-4.65},"y":{"datum":0.578}}},
{"data":{"values":[{}]},"mark":{"type":"text","text":"(a4)","font":"Liberation Serif","fontSize":14.5,"align":"left","baseline":"bottom"},"encoding":{"x":{"datum":-4.3},"y":{"datum":0.03}}}
]},
{"width":138,"height":105,"layer":[
{"data":{"name":"h5"},"mark":{"type":"rect","fill":"#f7f74c","stroke":"#3a3a3a","strokeWidth":0.5},"encoding":{"x":{"field":"x","type":"quantitative","scale":{"domain":[-5,5],"nice":false,"zero":false},"axis":{"values":[-5,0,5],"title":"Difference of the couch rotation (°)","titleFontSize":7.5}},"x2":{"field":"x2"},"y":{"field":"y","type":"quantitative","scale":{"domain":[0,0.45],"nice":false},"axis":{"values":[0,0.05,0.1,0.15,0.2,0.25,0.3,0.35,0.4,0.45],"title":"Frequency","titleFontSize":9}},"y2":{"datum":0}}},
{"data":{"name":"g5"},"mark":{"type":"line","color":"#c4c4c4","strokeWidth":0.7,"interpolate":"monotone"},"encoding":{"x":{"field":"x","type":"quantitative"},"y":{"field":"y","type":"quantitative"}}},
{"data":{"values":[{}]},"mark":{"type":"rect","fill":"white","stroke":"#999999","strokeWidth":0.8},"encoding":{"x":{"datum":-4.87},"x2":{"datum":-1.1},"y":{"datum":0.441},"y2":{"datum":0.286}}},
{"data":{"values":[{}]},"mark":{"type":"text","text":["Pitch","μ = -0.22°","σ = 0.97°"],"font":"Liberation Serif","fontWeight":"bold","fontSize":9,"lineHeight":10,"align":"left","baseline":"top"},"encoding":{"x":{"datum":-4.65},"y":{"datum":0.433}}},
{"data":{"values":[{}]},"mark":{"type":"text","text":"(a5)","font":"Liberation Serif","fontSize":14.5,"align":"left","baseline":"bottom"},"encoding":{"x":{"datum":-4.8},"y":{"datum":0.02}}}
]},
{"width":138,"height":105,"layer":[
{"data":{"name":"h6"},"mark":{"type":"rect","fill":"#48f0f0","stroke":"#3a3a3a","strokeWidth":0.5},"encoding":{"x":{"field":"x","type":"quantitative","scale":{"domain":[-5,5],"nice":false,"zero":false},"axis":{"values":[-5,0,5],"title":"Difference of the couch rotation (°)","titleFontSize":7.5}},"x2":{"field":"x2"},"y":{"field":"y","type":"quantitative","scale":{"domain":[0,0.5],"nice":false},"axis":{"values":[0,0.05,0.1,0.15,0.2,0.25,0.3,0.35,0.4,0.45,0.5],"title":"Frequency","titleFontSize":9}},"y2":{"datum":0}}},
{"data":{"name":"g6"},"mark":{"type":"line","color":"#c4c4c4","strokeWidth":0.7,"interpolate":"monotone"},"encoding":{"x":{"field":"x","type":"quantitative"},"y":{"field":"y","type":"quantitative"}}},
{"data":{"values":[{}]},"mark":{"type":"rect","fill":"white","stroke":"#999999","strokeWidth":0.8},"encoding":{"x":{"datum":-4.8},"x2":{"datum":-0.9},"y":{"datum":0.49},"y2":{"datum":0.318}}},
{"data":{"values":[{}]},"mark":{"type":"text","text":["Roll"," μ= 0.13°"," σ= 0.82°"],"font":"Liberation Serif","fontWeight":"bold","fontSize":9,"lineHeight":10,"align":"left","baseline":"top"},"encoding":{"x":{"datum":-4.55},"y":{"datum":0.481}}},
{"data":{"values":[{}]},"mark":{"type":"text","text":"(a6)","font":"Liberation Serif","fontSize":14.5,"align":"left","baseline":"bottom"},"encoding":{"x":{"datum":-4.5},"y":{"datum":0.025}}}
]},
{"width":138,"height":106,"layer":[
{"data":{"values":[{"y":2},{"y":-2}]},"mark":{"type":"rule","color":"#c9a8f2","strokeWidth":1.6},"encoding":{"y":{"field":"y","type":"quantitative","scale":{"domain":[-8.5,9],"nice":false,"zero":false},"axis":{"values":[-8,-6,-4,-2,0,2,4,6,8],"title":"Difference of the couch translation (mm)","titleFontSize":6.5}}}},
{"data":{"values":[{"y":-3.23},{"y":2.08},{"y":-0.57}]},"mark":{"type":"rule","color":"#b4b4b4","strokeWidth":0.7,"strokeDash":[2,2]},"encoding":{"y":{"field":"y","type":"quantitative"}}},
{"data":{"name":"s1"},"mark":{"type":"point","shape":"circle","filled":false,"color":"#333333","size":13,"strokeWidth":0.6,"clip":true},"encoding":{"x":{"field":"x","type":"quantitative","scale":{"domain":[0.5,44],"nice":false,"zero":false},"axis":{"values":[5,10,15,20,25,30,35,40],"title":"Mean of the couch translation (mm)","titleFontSize":6.5}},"y":{"field":"y","type":"quantitative"}}},
{"data":{"values":[{}]},"mark":{"type":"rect","fill":"white","stroke":"#888888","strokeWidth":0.8},"encoding":{"x":{"datum":1.8},"x2":{"datum":39.2},"y":{"datum":8.44},"y2":{"datum":4.4}}},
{"data":{"values":[{}]},"mark":{"type":"text","text":["A-P  95%CI: (-3.23,  +2.08)","Within ± 3 mm: 95.42%"],"font":"Liberation Serif","fontWeight":"bold","fontSize":9.5,"lineHeight":11.5,"align":"left","baseline":"top"},"encoding":{"x":{"datum":3.0},"y":{"datum":8.1}}},
{"data":{"values":[{}]},"mark":{"type":"text","text":"(b1)","font":"Liberation Serif","fontSize":15,"align":"left","baseline":"bottom"},"encoding":{"x":{"datum":2.8},"y":{"datum":-8.3}}}
]},
{"width":138,"height":106,"layer":[
{"data":{"values":[{"y":2},{"y":-2}]},"mark":{"type":"rule","color":"#c9a8f2","strokeWidth":1.6},"encoding":{"y":{"field":"y","type":"quantitative","scale":{"domain":[-8.5,9],"nice":false,"zero":false},"axis":{"values":[-8,-6,-4,-2,0,2,4,6,8],"title":"Difference of the couch translation (mm)","titleFontSize":6.5}}}},
{"data":{"values":[{"y":-3.45},{"y":3.33},{"y":-0.06}]},"mark":{"type":"rule","color":"#b4b4e8","strokeWidth":0.7,"strokeDash":[2,2]},"encoding":{"y":{"field":"y","type":"quantitative"}}},
{"data":{"name":"s2"},"mark":{"type":"point","shape":"circle","filled":false,"color":"#3c3cf0","size":13,"strokeWidth":0.6,"clip":true},"encoding":{"x":{"field":"x","type":"quantitative","scale":{"domain":[-22,33],"nice":false,"zero":false},"axis":{"values":[-20,-10,0,10,20,30],"title":"Mean of the couch translation (mm)","titleFontSize":6.5}},"y":{"field":"y","type":"quantitative"}}},
{"data":{"values":[{}]},"mark":{"type":"rect","fill":"white","stroke":"#888888","strokeWidth":0.8},"encoding":{"x":{"datum":-20.1},"x2":{"datum":29.2},"y":{"datum":8.44},"y2":{"datum":4.4}}},
{"data":{"values":[{}]},"mark":{"type":"text","text":["L-R  95%CI: (-3.45, +3.33)","Within ± 3 mm: 91.67%"],"font":"Liberation Serif","fontWeight":"bold","fontSize":9.5,"lineHeight":11.5,"align":"left","baseline":"top"},"encoding":{"x":{"datum":-18.5},"y":{"datum":8.1}}},
{"data":{"values":[{}]},"mark":{"type":"text","text":"(b2)","font":"Liberation Serif","fontSize":15,"align":"left","baseline":"bottom"},"encoding":{"x":{"datum":-19.5},"y":{"datum":-8.3}}}
]},
{"width":138,"height":106,"layer":[
{"data":{"values":[{"y":2},{"y":-2}]},"mark":{"type":"rule","color":"#c9a8f2","strokeWidth":1.6},"encoding":{"y":{"field":"y","type":"quantitative","scale":{"domain":[-8.5,9],"nice":false,"zero":false},"axis":{"values":[-8,-6,-4,-2,0,2,4,6,8],"title":"Difference of the couch translation (mm)","titleFontSize":6.5}}}},
{"data":{"values":[{"y":-1.88},{"y":2.38},{"y":0.25}]},"mark":{"type":"rule","color":"#b4dcb4","strokeWidth":0.7,"strokeDash":[2,2]},"encoding":{"y":{"field":"y","type":"quantitative"}}},
{"data":{"name":"s3"},"mark":{"type":"point","shape":"circle","filled":false,"color":"#30d030","size":13,"strokeWidth":0.6,"clip":true},"encoding":{"x":{"field":"x","type":"quantitative","scale":{"domain":[-12,65],"nice":false,"zero":false},"axis":{"values":[-10,0,10,20,30,40,50,60],"title":"Mean of the couch translation (mm)","titleFontSize":6.5}},"y":{"field":"y","type":"quantitative"}}},
{"data":{"values":[{}]},"mark":{"type":"rect","fill":"white","stroke":"#888888","strokeWidth":0.8},"encoding":{"x":{"datum":-9.3},"x2":{"datum":61.2},"y":{"datum":8.44},"y2":{"datum":4.4}}},
{"data":{"values":[{}]},"mark":{"type":"text","text":["S-I  95%CI: (-1.88, +2.38)","Within ± 3 mm: 98.75%"],"font":"Liberation Serif","fontWeight":"bold","fontSize":9.5,"lineHeight":11.5,"align":"left","baseline":"top"},"encoding":{"x":{"datum":-7.0},"y":{"datum":8.1}}},
{"data":{"values":[{}]},"mark":{"type":"text","text":"(b3)","font":"Liberation Serif","fontSize":15,"align":"left","baseline":"bottom"},"encoding":{"x":{"datum":-8.5},"y":{"datum":-8.3}}}
]},
{"width":138,"height":106,"layer":[
{"data":{"values":[{"y":2},{"y":-2}]},"mark":{"type":"rule","color":"#c9a8f2","strokeWidth":1.6},"encoding":{"y":{"field":"y","type":"quantitative","scale":{"domain":[-5,5],"nice":false,"zero":false},"axis":{"values":[-5,-4,-3,-2,-1,0,1,2,3,4,5],"title":"Difference of the couch rotation (°)","titleFontSize":6.5}}}},
{"data":{"values":[{"y":-1.63},{"y":1.49}]},"mark":{"type":"rule","color":"#eaa0ea","strokeWidth":0.7,"strokeDash":[2,2]},"encoding":{"y":{"field":"y","type":"quantitative"}}},
{"data":{"values":[{"y":-0.07}]},"mark":{"type":"rule","color":"#b4b4b4","strokeWidth":0.7,"strokeDash":[2,2]},"encoding":{"y":{"field":"y","type":"quantitative"}}},
{"data":{"name":"s4"},"mark":{"type":"point","shape":"circle","filled":false,"color":"#e040e0","size":13,"strokeWidth":0.6,"clip":true},"encoding":{"x":{"field":"x","type":"quantitative","scale":{"domain":[-7.2,5.8],"nice":false,"zero":false},"axis":{"values":[-6,-4,-2,0,2,4],"title":"Mean of the couch rotation (°)","titleFontSize":6.5}},"y":{"field":"y","type":"quantitative"}}},
{"data":{"values":[{}]},"mark":{"type":"rect","fill":"white","stroke":"#888888","strokeWidth":0.8},"encoding":{"x":{"datum":-6.81},"x2":{"datum":3.79},"y":{"datum":4.57},"y2":{"datum":2.3}}},
{"data":{"values":[{}]},"mark":{"type":"text","text":["Yaw  95%CI: (-1.63,  +1.49)","Within ± 2°: 99.17%"],"font":"Liberation Serif","fontWeight":"bold","fontSize":9.5,"lineHeight":11.5,"align":"left","baseline":"top"},"encoding":{"x":{"datum":-6.45},"y":{"datum":4.38}}},
{"data":{"values":[{}]},"mark":{"type":"text","text":"(b4)","font":"Liberation Serif","fontSize":15,"align":"left","baseline":"bottom"},"encoding":{"x":{"datum":-6.6},"y":{"datum":-4.75}}}
]},
{"width":138,"height":106,"layer":[
{"data":{"values":[{"y":2},{"y":-2}]},"mark":{"type":"rule","color":"#c9a8f2","strokeWidth":1.6},"encoding":{"y":{"field":"y","type":"quantitative","scale":{"domain":[-5,5],"nice":false,"zero":false},"axis":{"values":[-5,-4,-3,-2,-1,0,1,2,3,4,5],"title":"Difference of the couch rotation (°)","titleFontSize":6.5}}}},
{"data":{"values":[{"y":-2.12},{"y":1.75}]},"mark":{"type":"rule","color":"#e6e690","strokeWidth":0.7,"strokeDash":[2,2]},"encoding":{"y":{"field":"y","type":"quantitative"}}},
{"data":{"values":[{"y":-0.19}]},"mark":{"type":"rule","color":"#b4b4b4","strokeWidth":0.7,"strokeDash":[2,2]},"encoding":{"y":{"field":"y","type":"quantitative"}}},
{"data":{"name":"s5"},"mark":{"type":"point","shape":"circle","filled":false,"color":"#ecec40","size":13,"strokeWidth":0.6,"clip":true},"encoding":{"x":{"field":"x","type":"quantitative","scale":{"domain":[-8.5,5],"nice":false,"zero":false},"axis":{"values":[-8,-6,-4,-2,0,2,4],"title":"Mean of the couch rotation (°)","titleFontSize":6.5}},"y":{"field":"y","type":"quantitative"}}},
{"data":{"values":[{}]},"mark":{"type":"rect","fill":"white","stroke":"#888888","strokeWidth":0.8},"encoding":{"x":{"datum":-8.03},"x2":{"datum":4.19},"y":{"datum":4.57},"y2":{"datum":2.3}}},
{"data":{"values":[{}]},"mark":{"type":"text","text":["Pitch  95%CI: (-2.12, +1.75)","Within ± 2°: 95.42%"],"font":"Liberation Serif","fontWeight":"bold","fontSize":9.5,"lineHeight":11.5,"align":"left","baseline":"top"},"encoding":{"x":{"datum":-7.65},"y":{"datum":4.38}}},
{"data":{"values":[{}]},"mark":{"type":"text","text":"(b5)","font":"Liberation Serif","fontSize":15,"align":"left","baseline":"bottom"},"encoding":{"x":{"datum":-7.9},"y":{"datum":-4.75}}}
]},
{"width":138,"height":106,"layer":[
{"data":{"values":[{"y":2},{"y":-2}]},"mark":{"type":"rule","color":"#c9a8f2","strokeWidth":1.6},"encoding":{"y":{"field":"y","type":"quantitative","scale":{"domain":[-5,5],"nice":false,"zero":false},"axis":{"values":[-5,-4,-3,-2,-1,0,1,2,3,4,5],"title":"Difference of the couch rotation (°)","titleFontSize":6.5}}}},
{"data":{"values":[{"y":-1.48},{"y":1.74}]},"mark":{"type":"rule","color":"#e0a0c8","strokeWidth":0.7,"strokeDash":[2,2]},"encoding":{"y":{"field":"y","type":"quantitative"}}},
{"data":{"values":[{"y":0.13}]},"mark":{"type":"rule","color":"#b4b4b4","strokeWidth":0.7,"strokeDash":[2,2]},"encoding":{"y":{"field":"y","type":"quantitative"}}},
{"data":{"name":"s6"},"mark":{"type":"point","shape":"circle","filled":false,"color":"#20dede","size":13,"strokeWidth":0.6,"clip":true},"encoding":{"x":{"field":"x","type":"quantitative","scale":{"domain":[-9.6,9],"nice":false,"zero":false},"axis":{"values":[-8,-6,-4,-2,0,2,4,6,8],"title":"Mean of the couch rotation (°)","titleFontSize":6.5}},"y":{"field":"y","type":"quantitative"}}},
{"data":{"values":[{}]},"mark":{"type":"rect","fill":"white","stroke":"#888888","strokeWidth":0.8},"encoding":{"x":{"datum":-8.8},"x2":{"datum":7.7},"y":{"datum":4.57},"y2":{"datum":2.3}}},
{"data":{"values":[{}]},"mark":{"type":"text","text":["Roll  95%CI: (-1.48,  +1.74)","Within ± 2°: 97.50%"],"font":"Liberation Serif","fontWeight":"bold","fontSize":9.5,"lineHeight":11.5,"align":"left","baseline":"top"},"encoding":{"x":{"datum":-8.3},"y":{"datum":4.38}}},
{"data":{"values":[{}]},"mark":{"type":"text","text":"(b6)","font":"Liberation Serif","fontSize":15,"align":"left","baseline":"bottom"},"encoding":{"x":{"datum":-8.6},"y":{"datum":-4.75}}}
]},
{"width":138,"height":100,"layer":[
{"data":{"name":"r1"},"mark":{"type":"point","shape":"square","filled":true,"color":"#222222","size":7,"opacity":0.85,"clip":true},"encoding":{"x":{"field":"x","type":"quantitative","scale":{"domain":[-5,45],"nice":false,"zero":false},"axis":{"values":[-5,0,5,10,15,20,25,30,35,40,45],"title":"Model prediction (mm)","titleFontSize":9}},"y":{"field":"y","type":"quantitative","scale":{"domain":[-5,45],"nice":false,"zero":false},"axis":{"values":[-5,0,5,10,15,20,25,30,35,40,45],"title":"Reference (mm)","titleFontSize":9}}}},
{"data":{"values":[{"x":-1,"y":0.06},{"x":42.5,"y":42.69}]},"mark":{"type":"line","color":"#e83030","strokeWidth":0.8},"encoding":{"x":{"field":"x","type":"quantitative"},"y":{"field":"y","type":"quantitative"}}},
{"data":{"values":[{}]},"mark":{"type":"rect","fill":"white","stroke":"#888888","strokeWidth":0.8},"encoding":{"x":{"datum":-3.75},"x2":{"datum":32},"y":{"datum":43.65},"y2":{"datum":32}}},
{"data":{"values":[{}]},"mark":{"type":"text","text":["A-P: Y=0.98*X+1.04","CC=0.9875; p<0.0001"],"font":"Liberation Serif","fontWeight":"bold","fontSize":9.5,"lineHeight":11,"align":"left","baseline":"top"},"encoding":{"x":{"datum":-2.75},"y":{"datum":42.8}}},
{"data":{"values":[{}]},"mark":{"type":"text","text":"(c1)","font":"Liberation Serif","fontSize":15,"align":"center","baseline":"alphabetic"},"encoding":{"x":{"datum":21},"y":{"datum":-3.5}}}
]},
{"width":138,"height":100,"layer":[
{"data":{"name":"r2"},"mark":{"type":"point","shape":"square","filled":true,"color":"#2525e0","size":7,"opacity":0.85,"clip":true},"encoding":{"x":{"field":"x","type":"quantitative","scale":{"domain":[-20,35],"nice":false,"zero":false},"axis":{"values":[-20,-10,0,10,20,30],"title":"Model prediction (mm)","titleFontSize":9}},"y":{"field":"y","type":"quantitative","scale":{"domain":[-20,35],"nice":false,"zero":false},"axis":{"values":[-20,-10,0,10,20,30],"title":"Reference (mm)","titleFontSize":9}}}},
{"data":{"values":[{"x":-19,"y":-18.11},{"x":33,"y":32.33}]},"mark":{"type":"line","color":"#e83030","strokeWidth":0.8},"encoding":{"x":{"field":"x","type":"quantitative"},"y":{"field":"y","type":"quantitative"}}},
{"data":{"values":[{}]},"mark":{"type":"rect","fill":"white","stroke":"#888888","strokeWidth":0.8},"encoding":{"x":{"datum":-18.6},"x2":{"datum":20.7},"y":{"datum":33.5},"y2":{"datum":20.7}}},
{"data":{"values":[{}]},"mark":{"type":"text","text":["L-R: Y=0.97*X+0.32","CC=0.9863; p<0.0001"],"font":"Liberation Serif","fontWeight":"bold","fontSize":9.5,"lineHeight":11,"align":"left","baseline":"top"},"encoding":{"x":{"datum":-17.5},"y":{"datum":32.6}}},
{"data":{"values":[{}]},"mark":{"type":"text","text":"(c2)","font":"Liberation Serif","fontSize":15,"align":"center","baseline":"alphabetic"},"encoding":{"x":{"datum":8},"y":{"datum":-18.6}}}
]},
{"width":138,"height":100,"layer":[
{"data":{"name":"r3"},"mark":{"type":"point","shape":"square","filled":true,"color":"#22cc22","size":7,"opacity":0.85,"clip":true},"encoding":{"x":{"field":"x","type":"quantitative","scale":{"domain":[-10,70],"nice":false,"zero":false},"axis":{"values":[-10,0,10,20,30,40,50,60,70],"title":"Model prediction (mm)","titleFontSize":9}},"y":{"field":"y","type":"quantitative","scale":{"domain":[-10,70],"nice":false,"zero":false},"axis":{"values":[-10,0,10,20,30,40,50,60,70],"title":"Reference (mm)","titleFontSize":9}}}},
{"data":{"values":[{"x":-9,"y":-9.17},{"x":65,"y":64.83}]},"mark":{"type":"line","color":"#e83030","strokeWidth":0.8},"encoding":{"x":{"field":"x","type":"quantitative"},"y":{"field":"y","type":"quantitative"}}},
{"data":{"values":[{}]},"mark":{"type":"rect","fill":"white","stroke":"#888888","strokeWidth":0.8},"encoding":{"x":{"datum":-8},"x2":{"datum":49.2},"y":{"datum":67.8},"y2":{"datum":49.2}}},
{"data":{"values":[{}]},"mark":{"type":"text","text":["S-I: Y=1*X+-0.17","CC=0.9973; p<0.0001"],"font":"Liberation Serif","fontWeight":"bold","fontSize":9.5,"lineHeight":11,"align":"left","baseline":"top"},"encoding":{"x":{"datum":-6.4},"y":{"datum":66.6}}},
{"data":{"values":[{}]},"mark":{"type":"text","text":"(c3)","font":"Liberation Serif","fontSize":15,"align":"center","baseline":"alphabetic"},"encoding":{"x":{"datum":31},"y":{"datum":-8}}}
]},
{"width":138,"height":100,"layer":[
{"data":{"name":"r4"},"mark":{"type":"point","shape":"square","filled":true,"color":"#e828e8","size":7,"opacity":0.85,"clip":true},"encoding":{"x":{"field":"x","type":"quantitative","scale":{"domain":[-8,8],"nice":false,"zero":false},"axis":{"values":[-8,-6,-4,-2,0,2,4,6,8],"title":"Model prediction (°)","titleFontSize":9}},"y":{"field":"y","type":"quantitative","scale":{"domain":[-8,8],"nice":false,"zero":false},"axis":{"values":[-8,-6,-4,-2,0,2,4,6,8],"title":"Reference (°)","titleFontSize":9}}}},
{"data":{"values":[{"x":-7.4,"y":-7.19},{"x":6.2,"y":6.14}]},"mark":{"type":"line","color":"#e83030","strokeWidth":0.8},"encoding":{"x":{"field":"x","type":"quantitative"},"y":{"field":"y","type":"quantitative"}}},
{"data":{"values":[{}]},"mark":{"type":"rect","fill":"white","stroke":"#888888","strokeWidth":0.8},"encoding":{"x":{"datum":-7.62},"x2":{"datum":3.62},"y":{"datum":7.46},"y2":{"datum":3.84}}},
{"data":{"values":[{}]},"mark":{"type":"text","text":["Yaw: Y=0.98*X+0.06","CC=0.9533; p<0.0001"],"font":"Liberation Serif","fontWeight":"bold","fontSize":9.5,"lineHeight":11,"align":"left","baseline":"top"},"encoding":{"x":{"datum":-7.3},"y":{"datum":7.25}}},
{"data":{"values":[{}]},"mark":{"type":"text","text":"(c4)","font":"Liberation Serif","fontSize":15,"align":"center","baseline":"alphabetic"},"encoding":{"x":{"datum":-0.6},"y":{"datum":-7.4}}}
]},
{"width":138,"height":100,"layer":[
{"data":{"name":"r5"},"mark":{"type":"point","shape":"square","filled":true,"color":"#e8e82a","size":7,"opacity":0.85,"clip":true},"encoding":{"x":{"field":"x","type":"quantitative","scale":{"domain":[-8,6],"nice":false,"zero":false},"axis":{"values":[-8,-6,-4,-2,0,2,4,6],"title":"Model prediction (°)","titleFontSize":9}},"y":{"field":"y","type":"quantitative","scale":{"domain":[-8,6],"nice":false,"zero":false},"axis":{"values":[-8,-6,-4,-2,0,2,4,6],"title":"Reference (°)","titleFontSize":9}}}},
{"data":{"values":[{"x":-7.5,"y":-6.89},{"x":5.8,"y":5.48}]},"mark":{"type":"line","color":"#e83030","strokeWidth":0.8},"encoding":{"x":{"field":"x","type":"quantitative"},"y":{"field":"y","type":"quantitative"}}},
{"data":{"values":[{}]},"mark":{"type":"rect","fill":"white","stroke":"#888888","strokeWidth":0.8},"encoding":{"x":{"datum":-7.65},"x2":{"datum":2.36},"y":{"datum":5.52},"y2":{"datum":2.36}}},
{"data":{"values":[{}]},"mark":{"type":"text","text":["Pitch: Y=0.93*X+0.09","CC=0.9402; p<0.0001"],"font":"Liberation Serif","fontWeight":"bold","fontSize":9.5,"lineHeight":11,"align":"left","baseline":"top"},"encoding":{"x":{"datum":-7.35},"y":{"datum":5.3}}},
{"data":{"values":[{}]},"mark":{"type":"text","text":"(c5)","font":"Liberation Serif","fontSize":15,"align":"center","baseline":"alphabetic"},"encoding":{"x":{"datum":-1},"y":{"datum":-7.5}}}
]},
{"width":138,"height":100,"layer":[
{"data":{"name":"r6"},"mark":{"type":"point","shape":"square","filled":true,"color":"#15e0e0","size":7,"opacity":0.85,"clip":true},"encoding":{"x":{"field":"x","type":"quantitative","scale":{"domain":[-10,10],"nice":false,"zero":false},"axis":{"values":[-10,-5,0,5,10],"title":"Model prediction (°)","titleFontSize":9}},"y":{"field":"y","type":"quantitative","scale":{"domain":[-10,10],"nice":false,"zero":false},"axis":{"values":[-10,-8,-6,-4,-2,0,2,4,6,8,10],"title":"Reference (°)","titleFontSize":9}}}},
{"data":{"values":[{"x":-10,"y":-10.04},{"x":9.3,"y":9.26}]},"mark":{"type":"line","color":"#e83030","strokeWidth":0.8},"encoding":{"x":{"field":"x","type":"quantitative"},"y":{"field":"y","type":"quantitative"}}},
{"data":{"values":[{}]},"mark":{"type":"rect","fill":"white","stroke":"#888888","strokeWidth":0.8},"encoding":{"x":{"datum":-9.4},"x2":{"datum":4.8},"y":{"datum":9.26},"y2":{"datum":5.2}}},
{"data":{"values":[{}]},"mark":{"type":"text","text":["Roll: Y=1*X+-0.04","CC=0.9626; p<0.0001"],"font":"Liberation Serif","fontWeight":"bold","fontSize":9.5,"lineHeight":11,"align":"left","baseline":"top"},"encoding":{"x":{"datum":-9.0},"y":{"datum":8.95}}},
{"data":{"values":[{}]},"mark":{"type":"text","text":"(c6)","font":"Liberation Serif","fontSize":15,"align":"center","baseline":"alphabetic"},"encoding":{"x":{"datum":-1},"y":{"datum":-9}}}
]}
]
}
